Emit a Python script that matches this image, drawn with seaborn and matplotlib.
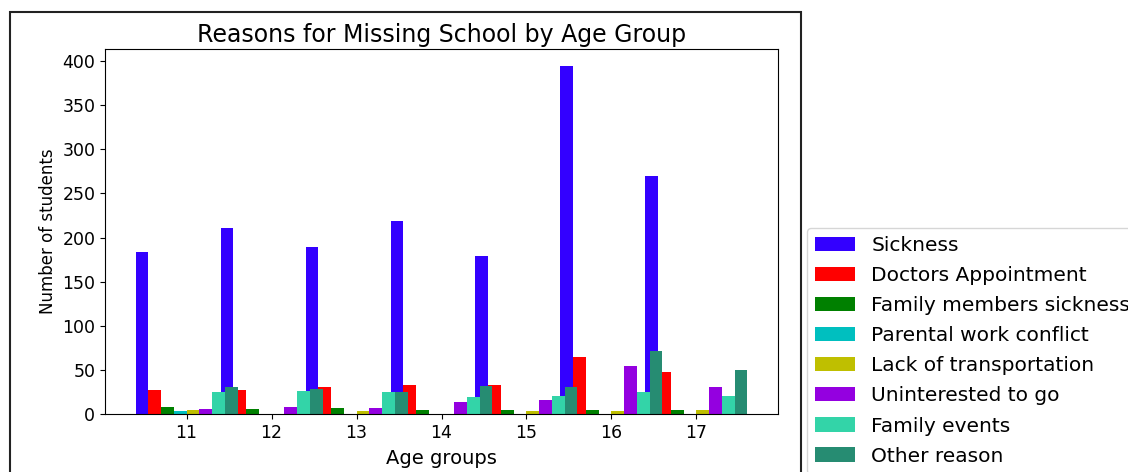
import numpy as np
import matplotlib
matplotlib.use("Agg")
import matplotlib.pyplot as plt
from matplotlib.patches import Rectangle
import seaborn as sns

# Age groups on the x axis
ages = [11, 12, 13, 14, 15, 16, 17]

# Reasons and their colours
reasons = [
    "Sickness",
    "Doctors Appointment",
    "Family members sickness",
    "Parental work conflict",
    "Lack of transportation",
    "Uninterested to go",
    "Family events",
    "Other reason",
]
colors = ["#3300ff", "#ff0000", "#008000", "#00bfbf",
          "#bfbf00", "#9400e0", "#33d4a8", "#268c72"]

# Number of students per reason, one value per age group
sickness = [184, 211, 189, 219, 179, 394, 270]
doctors_appointment = [27, 27, 31, 33, 33, 65, 48]
family_members_sickness = [8, 6, 7, 4, 4, 4, 4]
parental_work_conflict = [3, 0, 0, 0, 0, 0, 0]
lack_of_transportation = [4, 0, 3, 0, 3, 3, 4]
uninterested_to_go = [6, 8, 7, 14, 16, 54, 31]
family_events = [25, 26, 25, 19, 20, 25, 20]
other_reason = [31, 28, 25, 32, 31, 71, 50]

series = [sickness, doctors_appointment, family_members_sickness,
          parental_work_conflict, lack_of_transportation,
          uninterested_to_go, family_events, other_reason]

W, H = 1128, 472
fig = plt.figure(figsize=(W / 100, H / 100), dpi=100)
ax = fig.add_axes([105 / W, 58 / H, 673 / W, 365 / H])

bar_width = 0.15
idx = np.arange(len(ages))
for i, (name, vals, col) in enumerate(zip(reasons, series, colors)):
    sns.barplot(x=idx + i * bar_width, y=vals, native_scale=True,
                orient="v", width=bar_width, color=col, saturation=1,
                errorbar=None, linewidth=0, label=name, ax=ax)

ax.set_xticks(idx + bar_width * (len(reasons) - 1) / 2)
ax.set_xticklabels([str(a) for a in ages])
ax.tick_params(labelsize=12.5)
ax.set_xlabel("Age groups", fontsize=14, labelpad=5)
ax.set_ylabel("Number of students", fontsize=12)
ax.set_title("Reasons for Missing School by Age Group", fontsize=17, pad=5)

ax.legend(loc="upper left", bbox_to_anchor=(807 / W, 1 - 228 / H),
          bbox_transform=fig.transFigure, borderaxespad=0,
          fontsize=14.5, labelspacing=0.55)

# Frame around the plotting area of the figure
fig.add_artist(Rectangle((10 / W, -0.1), (801 - 10) / W, (H - 12) / H + 0.1,
                         transform=fig.transFigure, fill=False,
                         edgecolor="#222222", linewidth=1.5))

fig.savefig("out.png", dpi=100)
